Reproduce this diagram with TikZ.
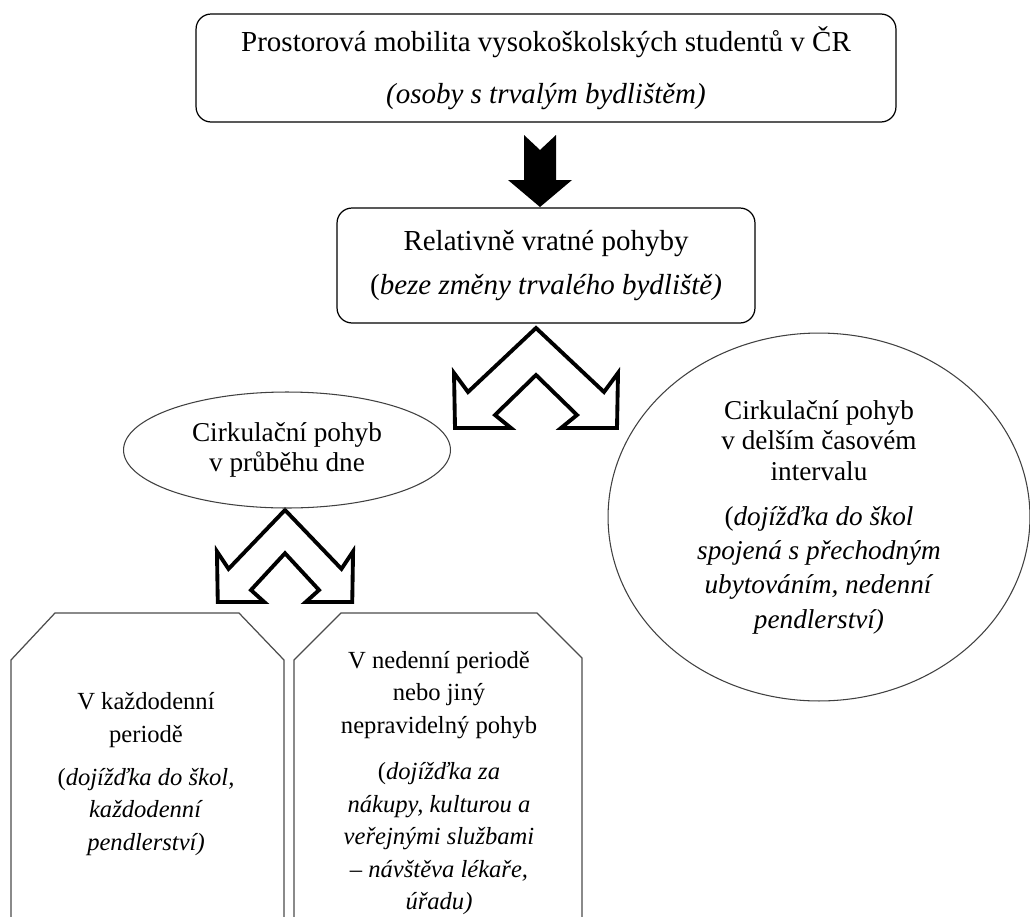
\documentclass[tikz,border=0pt]{standalone}
\usepackage{fontspec}
\setmainfont{Liberation Serif}
\usetikzlibrary{shapes.geometric}

\tikzset{
  box/.style={draw,rounded corners=0.3cm,line width=0.7pt,align=center,inner sep=0pt},
  oval/.style={draw=black!75,ellipse,line width=0.6pt,align=center,inner sep=0pt},
  period/.style={align=center,font=\fontsize{14}{18.5}\selectfont},
  blockarrow/.style={draw,line width=2.2pt,fill=white,miter limit=10},
  edge/.style={draw=black!70,line width=0.7pt},
  forkarrow/.pic={
    \draw[blockarrow] (0,0) -- (-68,64) -- (-82,45) -- (-81,100) -- (-25,100) -- (-41,87)
      -- (0,47) -- (41,87) -- (25,100) -- (81,100) -- (82,45) -- (68,64) -- cycle;
  }
}

\begin{document}
\begin{tikzpicture}[x=0.02cm,y=-0.02cm]
  \clip (0,0) rectangle (1030,916);
  \fill[white] (0,0) rectangle (1030,916);

  % boxes on top
  \node[box,minimum width=14cm,minimum height=2.16cm,font=\fontsize{16.5}{20}\selectfont] (mobilita) at (546,68)
    {Prostorová mobilita vysokoškolských studentů v ČR\\[9.5pt]\textit{(osoby s trvalým bydlištěm)}};
  \node[box,minimum width=8.36cm,minimum height=2.3cm,font=\fontsize{16.5}{20}\selectfont] (vratne) at (546,265.5)
    {Relativně vratné pohyby\\[5.5pt](\textit{beze změny trvalého bydliště)}};

  % arrows
  \fill (524,135) -- (540,150) -- (556,135) -- (556,180) -- (572,180) -- (540,207) -- (508,180) -- (524,180) -- cycle;
  \pic at (536,328) {forkarrow};
  \pic[xscale=0.83,yscale=0.92] at (285,510) {forkarrow};

  % ovals
  \node[oval,minimum width=6.54cm,minimum height=2.32cm,font=\fontsize{15.5}{17.5}\selectfont] (denni) at (287,450)
    {Cirkulační pohyb\\v průběhu dne};
  \node[oval,minimum width=8.44cm,minimum height=7.36cm,font=\fontsize{15.5}{17.5}\selectfont] (delsi) at (819,517)
    {Cirkulační pohyb\\v delším časovém\\intervalu\\[8pt](\textit{dojížďka do škol}\\[2pt]
     \textit{spojená s přechodným}\\[2pt]\textit{ubytováním, nedenní}\\[2pt]\textit{pendlerství)}};

  % bottom
  \draw[edge] (11,930) -- (11,660) -- (55,613) -- (239,613) -- (284,660) -- (284,930);
  \draw[edge] (294,930) -- (294,660) -- (341,613) -- (537,613) -- (582,658) -- (582,930);
  \node[period] (kazdodenni) at (146,774)
    {V každodenní\\periodě\\[6pt](\textit{dojížďka do škol,}\\\textit{každodenní}\\\textit{pendlerství)}};
  \node[period] (nedenni) at (439,783)
    {V nedenní periodě\\nebo jiný\\nepravidelný pohyb\\[8pt](\textit{dojížďka za}\\\textit{nákupy, kulturou a}\\
     \textit{veřejnými službami}\\– \textit{návštěva lékaře,}\\\textit{úřadu)}};
\end{tikzpicture}
\end{document}
